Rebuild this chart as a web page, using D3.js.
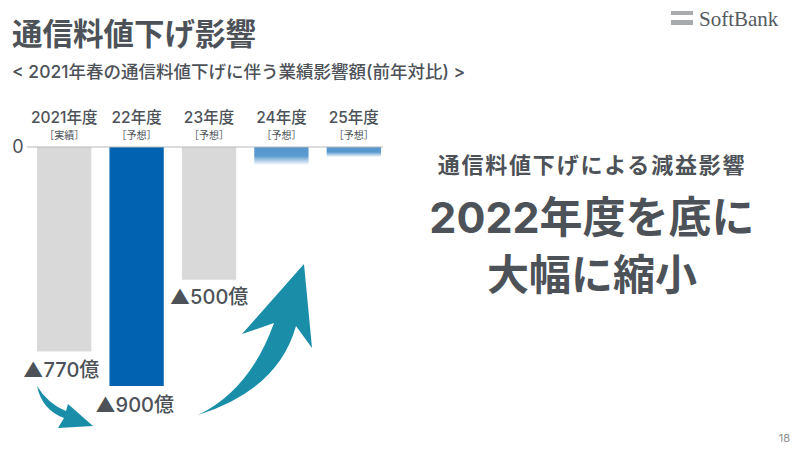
<!DOCTYPE html>
<html><head><meta charset="utf-8">
<script src="https://cdn.jsdelivr.net/npm/d3@7"></script>
<style>
body{margin:0;background:#fff;}
svg{display:block;font-family:"Inter","Noto Sans CJK JP",sans-serif;}
</style></head><body>
<svg id="c" width="800" height="450"></svg>
<script>
const categories = ["2021年度","22年度","23年度","24年度","25年度"];
const subLabels = ["［実績］","［予想］","［予想］","［予想］","［予想］"];
const values = [770, 900, 500, 68, 38];
const valueLabels = ["▲770億","▲900億","▲500億","",""];
const barKinds = ["gray","blue","gray","fade","fade"];
const yTicks = [0];

const svg = d3.select("#c");
const textCol = "#4d5258";

// Titles
svg.append("text").attr("x",12).attr("y",45).attr("font-size",30.5).attr("font-weight",700)
  .attr("fill",textCol).text("通信料値下げ影響");
svg.append("text").attr("x",12).attr("y",78).attr("font-size",17.5).attr("font-weight",500)
  .attr("fill",textCol).text("< 2021年春の通信料値下げに伴う業績影響額(前年対比) >");

// Logo
svg.append("rect").attr("x",671).attr("y",11).attr("width",22).attr("height",4).attr("fill","#a8abae");
svg.append("rect").attr("x",671).attr("y",20).attr("width",22).attr("height",5).attr("fill","#a8abae");
svg.append("text").attr("x",699).attr("y",26).attr("font-size",21)
  .attr("font-family","'Liberation Serif','DejaVu Serif',serif").attr("fill","#555a5f").text("SoftBank");

// Page number
svg.append("text").attr("x",790).attr("y",442).attr("text-anchor","end").attr("font-size",11)
  .attr("fill","#8a8d90").text("18");

// Scales
const x = d3.scaleBand().domain(categories).range([28,390]).paddingInner(0.25).paddingOuter(0.125);
const y = d3.scaleLinear().domain([0,900]).range([147,386]);

const defs = svg.append("defs");
const g = defs.append("linearGradient").attr("id","fadeGrad").attr("x1",0).attr("y1",0).attr("x2",0).attr("y2",1);
g.append("stop").attr("offset","0%").attr("stop-color","#5596cd");
g.append("stop").attr("offset","50%").attr("stop-color","#5b9acf");
g.append("stop").attr("offset","100%").attr("stop-color","#ffffff");

const fillFor = k => k==="gray" ? "#d9d9d9" : k==="blue" ? "#0062b1" : "url(#fadeGrad)";

svg.append("g").selectAll("rect").data(categories).join("rect")
  .attr("x",d=>x(d)).attr("y",y(0)).attr("width",x.bandwidth())
  .attr("height",(d,i)=>y(values[i])-y(0))
  .attr("fill",(d,i)=>fillFor(barKinds[i]));

// Baseline
svg.append("line").attr("x1",27).attr("x2",383).attr("y1",y(0)).attr("y2",y(0))
  .attr("stroke","#b5b8bb").attr("stroke-width",1);
svg.selectAll(".ytick").data(yTicks).join("text").attr("x",18).attr("y",d=>y(d)+6)
  .attr("text-anchor","middle").attr("font-size",18).attr("fill",textCol).text(d=>d);

// Category labels
svg.append("g").selectAll("text").data(categories).join("text")
  .attr("x",d=>x(d)+x.bandwidth()/2).attr("y",123).attr("text-anchor","middle")
  .attr("font-size",15.5).attr("font-weight",500).attr("fill",textCol).text(d=>d);
svg.append("g").selectAll("text").data(subLabels).join("text")
  .attr("x",(d,i)=>x(categories[i])+x.bandwidth()/2).attr("y",139).attr("text-anchor","middle")
  .attr("font-size",10).attr("fill",textCol).text(d=>d);

// Value labels
const labelPos = [{dx:-3,dy:26},{dx:-2,dy:26},{dx:0,dy:24}];
svg.append("g").selectAll("text").data(valueLabels.filter(d=>d)).join("text")
  .attr("x",(d,i)=>x(categories[i])+x.bandwidth()/2+labelPos[i].dx)
  .attr("y",(d,i)=>y(values[i])+labelPos[i].dy)
  .attr("text-anchor","middle").attr("font-size",20).attr("font-weight",500)
  .attr("fill",textCol).text(d=>d);

// Arrows
const arrowCol = "#1a8ea9";
svg.append("path").attr("fill",arrowCol)
  .attr("d","M37,386 Q42,410 64,418 L58,428 L93,426 L68,404 L66,411 Q48,404 37,386 Z");
svg.append("path").attr("fill",arrowCol)
  .attr("d","M198,415 Q278,390 296,326 L312,348 L304,264 L242,334 L274,323 Q250,390 198,415 Z");

// Right text
svg.append("text").attr("x",592).attr("y",173).attr("text-anchor","middle").attr("font-size",22)
  .attr("letter-spacing",1.8).attr("font-weight",700).attr("fill",textCol).text("通信料値下げによる減益影響");
svg.append("text").attr("x",592).attr("y",233).attr("text-anchor","middle").attr("font-size",43)
  .attr("font-weight",700).attr("fill",textCol).text("2022年度を底に");
svg.append("text").attr("x",592).attr("y",290).attr("text-anchor","middle").attr("font-size",42)
  .attr("font-weight",700).attr("fill",textCol).text("大幅に縮小");
</script></body></html>
